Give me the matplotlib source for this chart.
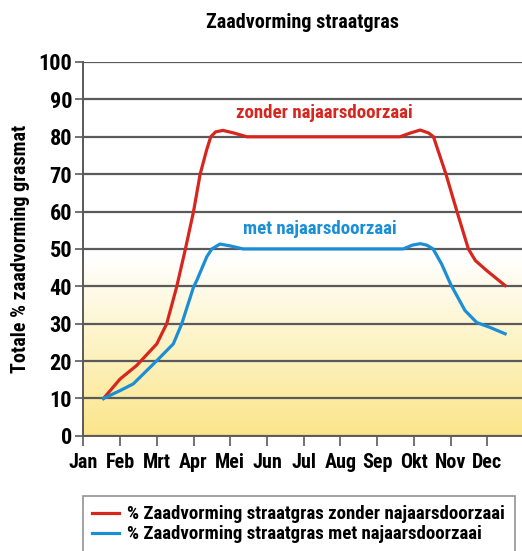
"""Zaadvorming straatgras - recreated line chart."""

import matplotlib
matplotlib.use("Agg")
import matplotlib.pyplot as plt
import numpy as np
from matplotlib import font_manager
from matplotlib.colors import LinearSegmentedColormap

# pick a narrow bold face if one is around
names = {f.name for f in font_manager.fontManager.ttflist}
FAMILY = "DejaVu Sans"
for cand in ["Roboto Condensed", "Open Sans Condensed", "Liberation Sans Narrow"]:
    if cand in names:
        FAMILY = cand
        break
plt.rcParams["font.family"] = [FAMILY, "DejaVu Sans"]
plt.rcParams["font.weight"] = "bold"
plt.rcParams["axes.labelweight"] = "bold"

MONTHS = ["Jan", "Feb", "Mrt", "Apr", "Mei", "Jun", "Jul", "Aug", "Sep", "Okt", "Nov", "Dec"]

# month position (Jan = 0) and % seed formation
zonder_x = [0.55, 1.0, 1.45, 2.0, 2.27, 2.54, 2.77, 3.0, 3.18, 3.36, 3.47, 3.6, 3.8, 4.1, 4.45,
            8.62, 8.9, 9.17, 9.4, 9.53, 9.7, 9.87, 10.17, 10.48, 10.67, 10.98, 11.48]
zonder_y = [10, 15.2, 18.8, 24.6, 30, 39.8, 49.6, 60, 70, 76.6, 80, 81.3, 81.7, 81, 80,
            80, 81, 81.8, 81, 80, 75, 70, 60, 50, 46.9, 44.2, 40.2]

met_x = [0.55, 1.0, 1.36, 2.0, 2.45, 2.68, 3.0, 3.09, 3.36, 3.5, 3.72, 4.0, 4.35,
         8.71, 8.95, 9.17, 9.35, 9.52, 9.75, 10.0, 10.39, 10.71, 11.07, 11.48]
met_y = [10, 12.1, 13.9, 20.1, 24.6, 30, 39.8, 41.6, 47.9, 50, 51.3, 50.8, 50,
         50, 51, 51.4, 51, 50, 46, 40.5, 33.5, 30.3, 29.0, 27.3]

RED = "#d7261e"
BLUE = "#1a8fd6"
GRID = "#5a5a5a"

fig = plt.figure(figsize=(5.22, 5.51), dpi=100)
ax = fig.add_axes([0.1596, 0.209, 0.8404, 0.6785])

# pale yellow gradient in the lower half
cmap = LinearSegmentedColormap.from_list("geel", ["#fbe58a", "#fdf3c4", "#ffffff"])
grad = np.linspace(0, 1, 256).reshape(-1, 1)
ax.imshow(grad, cmap=cmap, aspect="auto", extent=(0, 12, 0, 48), origin="lower", zorder=0)

ax.set_xlim(0, 11.94)
ax.set_ylim(0, 100)

ax.set_yticks(np.arange(0, 101, 10))
ax.set_xticks(np.arange(12))
ax.set_xticklabels(MONTHS)
ax.tick_params(axis="y", length=6, width=1.2, color=GRID, labelsize=16, pad=2)
ax.tick_params(axis="x", length=7, width=1.2, color=GRID, labelsize=14.5, pad=5)
ax.grid(axis="y", color=GRID, linewidth=1.6, zorder=1)
for side in ["top", "right"]:
    ax.spines[side].set_visible(False)
ax.spines["left"].set_color(GRID)
ax.spines["left"].set_linewidth(1.4)
ax.spines["bottom"].set_color(GRID)
ax.spines["bottom"].set_linewidth(1.4)

ax.plot(zonder_x, zonder_y, color=RED, linewidth=2.3, solid_joinstyle="round", zorder=3,
        label="% Zaadvorming straatgras zonder najaarsdoorzaai")
ax.plot(met_x, met_y, color=BLUE, linewidth=2.3, solid_joinstyle="round", zorder=3,
        label="% Zaadvorming straatgras met najaarsdoorzaai")

ax.text(6.55, 86.3, "zonder najaarsdoorzaai", color=RED, fontsize=13.6, ha="center", va="center")
ax.text(6.44, 55.3, "met najaarsdoorzaai", color=BLUE, fontsize=13.6, ha="center", va="center")

ax.set_ylabel("Totale % zaadvorming grasmat", fontsize=14.5, labelpad=6)
fig.text(0.58, 0.96, "Zaadvorming straatgras", fontsize=14.5, ha="center", va="center")

leg = fig.legend(loc="upper left", bbox_to_anchor=(0.159, 0.1), fontsize=13.6,
                 frameon=True, fancybox=False, handlelength=1.4, borderpad=0.5,
                 labelspacing=0.1, handletextpad=0.45, borderaxespad=0)
leg.get_frame().set_edgecolor("#777777")
leg.get_frame().set_linewidth(1.2)

fig.savefig("out.png", dpi=100)
